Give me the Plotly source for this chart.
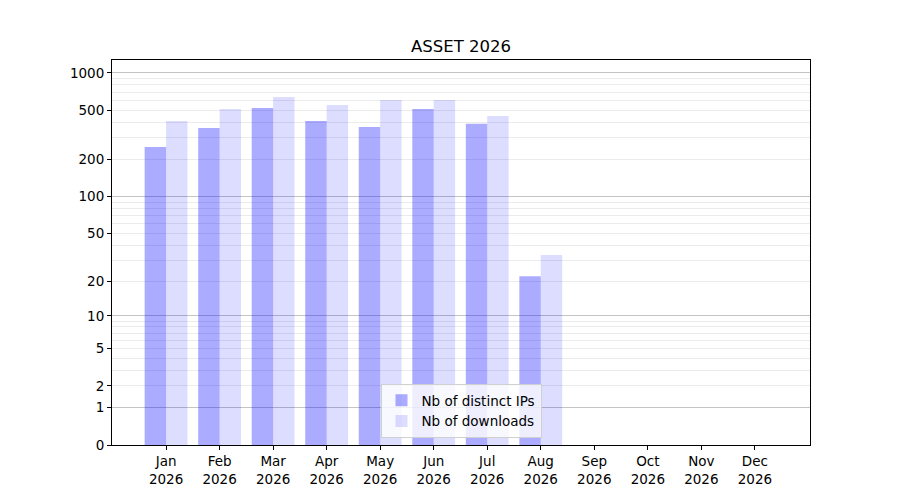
import numpy as np
import plotly.graph_objects as go

# monthly stats, raw counts
months = ['Jan', 'Feb', 'Mar', 'Apr', 'May', 'Jun',
          'Jul', 'Aug', 'Sep', 'Oct', 'Nov', 'Dec']
year = '2026'
distinct_ips = [252, 359, 521, 409, 366, 512, 389, 22, 0, 0, 0, 0]
downloads = [409, 512, 640, 551, 605, 605, 449, 33, 0, 0, 0, 0]

y_ticks = [0, 1, 2, 5, 10, 20, 50, 100, 200, 500, 1000]
y_major_grid = [1, 10, 100, 1000]
y_minor_grid = [m * d for d in (1, 10, 100) for m in range(2, 10)]


def scale(values):
    """log10(1 + x) axis, same as the original symlog-like scale"""
    return np.log10(1 + np.asarray(values, dtype=float))


x = list(range(len(months)))
font = dict(family='DejaVu Sans', size=13.5, color='black')

fig = go.Figure()
fig.add_trace(go.Bar(
    name='Nb of distinct IPs',
    x=x,
    y=scale(distinct_ips),
    marker=dict(color='rgba(0,0,255,0.33)', line=dict(width=0)),
    customdata=distinct_ips,
    hovertemplate='%{customdata}<extra></extra>',
))
fig.add_trace(go.Bar(
    name='Nb of downloads',
    x=x,
    y=scale(downloads),
    marker=dict(color='rgba(0,0,255,0.135)', line=dict(width=0)),
    customdata=downloads,
    hovertemplate='%{customdata}<extra></extra>',
))
# invisible trace to carry the darker major grid on an overlaid axis
fig.add_trace(go.Scatter(x=[x[0]], y=[0], yaxis='y2', mode='markers',
                         marker=dict(opacity=0), showlegend=False,
                         hoverinfo='skip'))

y_range = [0, 3.105]
# the page body adds an 8px offset, so the figure is 8px smaller
fig.update_layout(
    width=892, height=492,
    margin=dict(l=104, r=90, t=52, b=55),
    paper_bgcolor='white', plot_bgcolor='white',
    font=font,
    barmode='group', bargap=0.2, bargroupgap=0,
    title=dict(text='ASSET 2026', x=0.5, xref='paper', xanchor='center',
               y=0.9228, yanchor='middle',
               font=dict(family='DejaVu Sans', size=16.5, color='black')),
    xaxis=dict(
        range=[-1.01, 12.03],
        tickmode='array', tickvals=x,
        ticktext=[f'{m}<br>{year}' for m in months],
        ticks='outside', ticklen=4, tickcolor='black',
        showline=True, linecolor='black', linewidth=1, mirror=True,
        showgrid=False, zeroline=False,
    ),
    yaxis=dict(
        range=y_range,
        tickmode='array', tickvals=scale(y_ticks),
        ticktext=[str(t) for t in y_ticks],
        ticks='outside', ticklen=4, tickcolor='black',
        showline=True, linecolor='black', linewidth=1, mirror=True,
        showgrid=False, zeroline=False,
        minor=dict(tickmode='array', tickvals=scale(y_minor_grid),
                   ticks='', showgrid=True, gridcolor='#ebebeb', gridwidth=1),
    ),
    yaxis2=dict(
        range=y_range, overlaying='y', side='left',
        tickmode='array', tickvals=scale(y_major_grid),
        showticklabels=False, ticks='',
        showgrid=True, gridcolor='#c4c4c4', gridwidth=1, zeroline=False,
    ),
    legend=dict(
        x=0.5, xanchor='center', y=0.018, yanchor='bottom',
        bgcolor='rgba(255,255,255,0.8)', bordercolor='#d0d0d0', borderwidth=1,
        font=font, tracegroupgap=0,
    ),
    showlegend=True,
)

fig.write_html('out.html')
